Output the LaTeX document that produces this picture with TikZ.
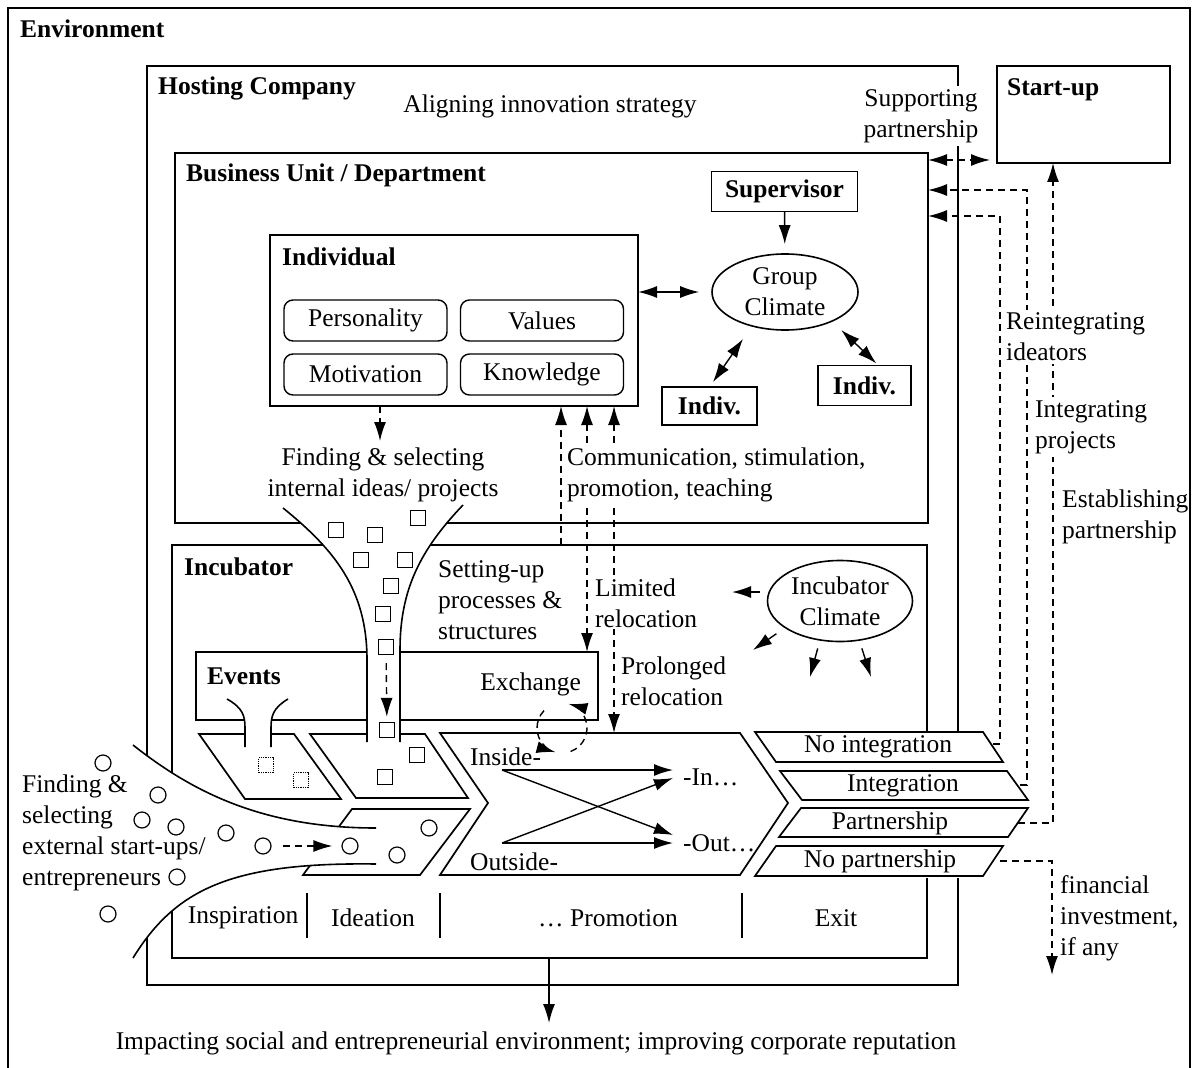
\documentclass[tikz,border=0pt]{standalone}
\usepackage{fontspec}
\setmainfont{Liberation Serif}
\usetikzlibrary{arrows.meta,shapes.geometric,calc}

\begin{document}
\begin{tikzpicture}[x=1pt,y=-1pt,
  font=\fontsize{25.5}{31}\selectfont,
  bf/.style={font=\fontsize{25.5}{31}\selectfont\bfseries},
  frame/.style={draw, line width=1.7pt, inner sep=0pt, outer sep=0pt, anchor=north west},
  pbox/.style={draw, line width=1.7pt, inner sep=0pt, outer sep=0pt},
  trait/.style={draw, line width=1.4pt, rounded corners=9pt, minimum width=163, minimum height=41, inner sep=0pt},
  climate/.style={draw, ellipse, line width=1.6pt, inner sep=0pt, align=center},
  txt/.style={inner sep=0pt, align=left},
  mask/.style={fill=white, inner sep=3pt, align=left},
  phase/.style={draw, fill=white, line width=1.7pt},
  curve/.style={line width=1.6pt},
  arr/.style={line width=1.4pt, -{Latex[length=19pt,width=12pt]}},
  dbl/.style={line width=1.4pt, {Latex[length=19pt,width=12pt]}-{Latex[length=19pt,width=12pt]}},
  dsh/.style={dash pattern=on 7pt off 5pt},
  sq/.style={draw, line width=1.3pt, minimum size=15, inner sep=0pt},
  dsq/.style={sq, densely dotted},
  dot/.style={circle, draw, line width=1.2pt, minimum size=16, inner sep=0pt},
]
\useasboundingbox (0,0) rectangle (1198,1067);

% ---------- environment and organisational frames ----------
\draw[line width=1.2pt] (8,1080) -- (8,8) -- (1190,8) -- (1190,1080);
\node[frame, minimum width=811, minimum height=919] (host) at (147,66) {};
\node[frame, minimum width=753, minimum height=370] (bu) at (175,153) {};
\node[frame, minimum width=755, minimum height=413] (incub) at (172,545) {};
\node[frame, minimum width=402, minimum height=68] (events) at (196,652) {};
\node[frame, minimum width=368, minimum height=171] (indiv) at (270,235) {};
\node[frame, minimum width=173, minimum height=97] (su) at (997,66) {};

% individual traits
\node[trait] (pers) at (365.5,320.5) {Personality};
\node[trait] (vals) at (542,320.5) {Values};
\node[trait] (moti) at (365.5,374.5) {Motivation};
\node[trait] (know) at (542,374.5) {Knowledge};

% group
\node[pbox, bf, minimum width=146, minimum height=40] (sup) at (784.5,191.5) {Supervisor};
\node[climate, minimum width=146, minimum height=76] (gc) at (785,292) {Group\\Climate};
\node[pbox, bf, minimum width=95, minimum height=38] (indl) at (709.5,406) {Indiv.};
\node[pbox, bf, minimum width=93, minimum height=40] (indr) at (864.5,385.5) {Indiv.};
\node[climate, minimum width=145, minimum height=81] (ic) at (840,601) {Incubator\\Climate};

% ---------- process phases ----------
\draw[phase] (199,734) -- (294,734) -- (341,799) -- (245,799) -- cycle;
\draw[phase] (310,734) -- (425,734) -- (468,798) -- (356,798) -- cycle;
\draw[phase] (352,809) -- (470,809) -- (420,875) -- (303,875) -- cycle;
\draw[phase] (440,733) -- (740,733) -- (788,803) -- (740,875) -- (440,875) -- (488,803) -- cycle;
\coordinate (promtop) at (614,733);

% exit options
\fill[white] (900,731) rectangle (975,878);
\draw[phase] (755,732) -- (983,732) -- (1003,762) -- (776,762) -- cycle;
\draw[phase] (780,771) -- (1007,771) -- (1028,800) -- (802,800) -- cycle;
\draw[phase] (801,808) -- (1028,808) -- (1008,837) -- (779,837) -- cycle;
\draw[phase] (776,846) -- (1003,846) -- (983,876) -- (755,876) -- cycle;
\node[txt] (tni) at (878,747) {No integration};
\node[txt] (tin) at (903,786) {Integration};
\node[txt] (tpa) at (890,823) {Partnership};
\node[txt] (tnp) at (880,861) {No partnership};
\coordinate (ni-r) at (993,744);
\coordinate (in-r) at (1020,785);
\coordinate (pa-r) at (1018,823);
\coordinate (np-r) at (1000,861);

% ---------- funnels ----------
% events funnel
\fill[white] (227,699) .. controls (243,708) and (245,716) .. (245,728) -- (245,747) -- (271,747) -- (271,728) .. controls (271,716) and (273,708) .. (288,699) -- cycle;
\draw[curve] (227,699) .. controls (243,708) and (245,716) .. (245,728) -- (245,747);
\draw[curve] (288,699) .. controls (273,708) and (271,716) .. (271,728) -- (271,747);

% internal funnel
\fill[white] (283,508) .. controls (335,550) and (367,590) .. (367,660) -- (367,742) -- (400,742) -- (400,650) .. controls (400,590) and (420,550) .. (463,505) -- cycle;
\draw[curve] (283,508) .. controls (335,550) and (367,590) .. (367,660) -- (367,742);
\draw[curve] (463,505) .. controls (420,550) and (400,590) .. (400,650) -- (400,742);

% external funnel
\fill[white] (133,745) .. controls (190,790) and (260,828) .. (376,828) -- (376,864) .. controls (230,862) and (175,890) .. (133,958) -- cycle;
\draw[curve] (133,745) .. controls (190,790) and (260,828) .. (376,828);
\draw[curve] (376,864) .. controls (230,862) and (175,890) .. (133,958);

% internal ideas / projects
\node[sq] (s1) at (336,530) {};
\node[sq] (s2) at (375,535) {};
\node[sq] (s3) at (418,518) {};
\node[sq] (s4) at (361,560) {};
\node[sq] (s5) at (405,560) {};
\node[sq] (s6) at (391,586) {};
\node[sq] (s7) at (383,614) {};
\node[sq] (s8) at (386,647) {};
\node[sq] (s9) at (387,730) {};
\node[sq] (s10) at (417,755) {};
\node[sq] (s11) at (385,777) {};
\node[dsq] (e1) at (266,765) {};
\node[dsq] (e2) at (301,780) {};

% external start-ups
\node[dot] (o1) at (103,763) {};
\node[dot] (o2) at (158,795) {};
\node[dot] (o3) at (142,820) {};
\node[dot] (o4) at (176,827) {};
\node[dot] (o5) at (226,833) {};
\node[dot] (o6) at (263,846) {};
\node[dot] (o7) at (350,846) {};
\node[dot] (o8) at (397,855) {};
\node[dot] (o9) at (429,828) {};
\node[dot] (o10) at (177,877) {};
\node[dot] (o11) at (108,914) {};

% ---------- phase strip ----------
\draw[line width=1.3pt] (307,893) -- (307,938);
\draw[line width=1.3pt] (440,893) -- (440,938);
\draw[line width=1.3pt] (742,893) -- (742,938);
\node[txt] (ph1) at (243,918) {Inspiration};
\node[txt] (ph2) at (373,918) {Ideation};
\node[txt] (ph3) at (608,918) {\dots\ Promotion};
\node[txt] (ph4) at (836,918) {Exit};

% ---------- connectors ----------
\draw[arr, shorten >=9pt] (sup) -- (gc);
\draw[dbl, shorten >=12pt] (indiv.east |- gc.west) -- (gc.west);
\draw[dbl, shorten <=15pt, shorten >=6pt] (gc.226) -- (indl.north);
\draw[dbl, shorten <=12pt, shorten >=3pt] (gc.328) -- (indr.55);

\coordinate (fs) at (380,441);
\draw[arr, dsh] (indiv.south -| fs) -- (fs);

\coordinate (x1) at (561,545);
\coordinate (x2) at (587,600);
\coordinate (x3) at (614,600);
\draw[arr, dsh] (x1) -- (x1 |- indiv.south);
\draw[dbl, dsh] (x2 |- indiv.south) -- (x2 |- events.north);
\draw[dbl, dsh] (x3 |- indiv.south) -- (promtop);

\draw[arr, dsh, shorten <=8pt, shorten >=5pt] (s8) -- (s9);
\draw[arr, dsh, shorten <=11pt, shorten >=9pt] (o6) -- (o7);

% exchange loop
\draw[arr, dsh] (562,728) ++(136:25pt) arc[start angle=136, end angle=255, radius=25pt];
\draw[arr, dsh] (562,728) ++(290:25pt) arc[start angle=290, end angle=435, radius=25pt];

% inside / outside
\coordinate (inS) at (502,770);
\coordinate (outS) at (502,843);
\coordinate (inE) at (673,770);
\coordinate (inE2) at (673,778);
\coordinate (outE) at (673,843);
\coordinate (outE2) at (673,835);
\draw[arr] (inS) -- (inE);
\draw[arr] (inS) -- (outE2);
\draw[arr] (outS) -- (outE);
\draw[arr] (outS) -- (inE2);

% incubator climate influence
\coordinate (icw) at (732,592);
\coordinate (icsw) at (753,650);
\coordinate (ics1) at (810,677);
\coordinate (ics2) at (871,677);
\draw[arr, shorten <=7pt] (ic.west |- icw) -- (icw);
\draw[arr, shorten <=10pt] (ic.206) -- (icsw);
\draw[arr, shorten <=8pt] (ic.243) -- (ics1);
\draw[arr, shorten <=8pt] (ic.296) -- (ics2);

% links to the start-up and back into the business unit
\coordinate (sp) at (960,160);
\coordinate (k1) at (1000,216);
\coordinate (k2) at (1027,190);
\coordinate (k3) at (1053,500);
\coordinate (k4) at (1052,975);
\draw[dbl, dsh, shorten >=7pt] (bu.east |- sp) -- (su.west |- sp);
\draw[arr, dsh] (ni-r) -| (k1) -- (k1 -| bu.east);
\draw[arr, dsh] (in-r) -| (k2) -- (k2 -| bu.east);
\draw[arr, dsh] (pa-r) -| (k3 |- su.south);
\draw[arr, dsh] (np-r) -| (k4);

% impact on the environment
\coordinate (imp) at (549,1023);
\draw[arr] (imp |- incub.south) -- (imp);

% ---------- labels ----------
\node[txt, bf, anchor=west] (envlbl) at (20,29) {Environment};
\node[txt, bf, anchor=west] (hostlbl) at (158,88) {Hosting Company};
\node[txt] (align) at (550,106) {Aligning innovation strategy};
\node[mask, align=center] (supp) at (921,116) {Supporting\\partnership};
\node[txt, bf, anchor=west] (sulbl) at (1007,90) {Start-up};
\node[txt, bf, anchor=west] (bulbl) at (186,175) {Business Unit / Department};
\node[txt, bf, anchor=west] (indlbl) at (282,257) {Individual};
\node[txt, align=center] (fint) at (383,475) {Finding \& selecting\\internal ideas/ projects};
\node[mask, anchor=west, inner sep=2pt] (comm) at (565,475) {Communication, stimulation,\\promotion, teaching};
\node[txt, bf, anchor=west] (inclbl) at (184,567) {Incubator};
\node[txt, anchor=west] (setup) at (438,600) {Setting-up\\processes \&\\structures};
\node[mask, anchor=west, inner sep=2pt] (limrel) at (593,603) {Limited\\relocation};
\node[txt, anchor=west] (prorel) at (621,681) {Prolonged\\relocation};
\node[txt, bf, anchor=west] (evlbl) at (207,676) {Events};
\node[txt, anchor=east] (exch) at (581,684) {Exchange};
\node[txt, anchor=west] (ins) at (470,757) {Inside-};
\node[txt, anchor=west] (outs) at (470,862) {Outside-};
\node[txt, anchor=west] (tin2) at (683,777) {-In\dots};
\node[txt, anchor=west] (tout2) at (683,843) {-Out\dots};
\node[txt, anchor=west] (fext) at (22,833) {Finding \&\\selecting\\external start-ups/\\entrepreneurs};
\node[mask, anchor=west] (reint) at (1003,337) {Reintegrating\\ideators};
\node[mask, anchor=west] (intp) at (1032,427) {Integrating\\projects};
\node[txt, anchor=west] (estp) at (1062,517) {Establishing\\partnership};
\node[txt, anchor=west] (fin) at (1060,918) {financial\\investment,\\if any};
\node[txt] (impact) at (536,1043) {Impacting social and entrepreneurial environment; improving corporate reputation};
\end{tikzpicture}
\end{document}
